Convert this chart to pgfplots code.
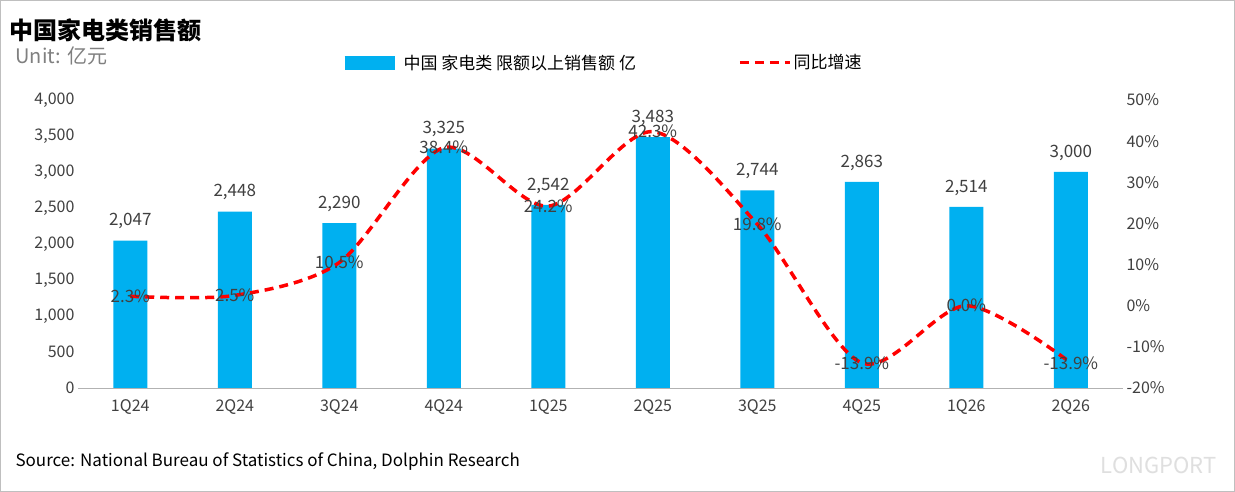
\documentclass[border=0pt]{standalone}
\usepackage{pgfplots}
\pgfplotsset{compat=1.18}
\usepackage{fontspec}
\setmainfont{Noto Sans CJK SC}
\definecolor{barblue}{HTML}{00B0F0}
\definecolor{txt}{HTML}{404040}
\begin{document}
\begin{tikzpicture}[x=1pt,y=1pt]
\fill[white] (0,0) rectangle (1235,492);
\draw[gray!50] (0.5,0.5) rectangle (1234.5,491.5);
\node[anchor=west,font=\fontsize{24}{26}\selectfont\bfseries] at (6,462) {中国家电类销售额};
\node[anchor=west,font=\fontsize{20}{22}\selectfont,text=gray] at (12,436) {Unit: 亿元};
\node[anchor=west,font=\fontsize{17}{20}\selectfont,text=black] at (12,30) {Source: National Bureau of Statistics of China, Dolphin Research};
\node[anchor=east,font=\fontsize{22}{24}\selectfont,text=gray!25] at (1220,27) {LONGPORT};
\pgfplotsset{every axis/.style={scale only axis,width=1045pt,height=288pt,at={(78pt,104pt)},anchor=south west,xmin=-0.5,xmax=9.5,
 tick label style={font=\fontsize{16}{18}\selectfont,text=txt},/pgf/number format/assume math mode=true,tick style={draw=none}}}
\begin{axis}[ymin=0,ymax=4000,ytick={0,500,...,4000},
 axis y line*=left, axis x line*=bottom, x axis line style={gray!60}, y axis line style={draw=none},
 xtick=data,xticklabels={1Q24,2Q24,3Q24,4Q24,1Q25,2Q25,3Q25,4Q25,1Q26,2Q26},
 xticklabel style={yshift=-8pt},
 /pgf/number format/.cd,1000 sep={,},
 ]
\addplot[ybar,bar width=34pt,fill=barblue,draw=none,nodes near coords,
 every node near coord/.style={font=\fontsize{17}{19}\selectfont,text=txt,yshift=8pt}] coordinates
 {(0,2047)(1,2448)(2,2290)(3,3325)(4,2542)(5,3483)(6,2744)(7,2863)(8,2514)(9,3000)};
\end{axis}
\begin{axis}[ymin=-20,ymax=50,ytick={-20,-10,...,50},yticklabel={\pgfmathprintnumber{\tick}\%},
 axis y line*=right, axis x line=none, y axis line style={draw=none},
 legend style={at={(0.5,1.13)},anchor=center,draw=none,font=\fontsize{17}{19}\selectfont,legend columns=2,
  /tikz/every even column/.append style={column sep=100pt}},
 legend image code/.code={\draw[#1] (0pt,0pt) -- (50pt,0pt);}]
\addlegendimage{line width=14pt,barblue}
\addlegendentry{中国 家电类 限额以上销售额 亿}
\addplot[red,line width=3.5pt,dash pattern=on 9pt off 6pt,smooth,tension=0.5,
 nodes near coords,point meta=explicit symbolic,
 every node near coord/.style={anchor=center,font=\fontsize{17}{19}\selectfont,text=txt}] coordinates
 {(0,2.3)[2.3\%] (1,2.5)[2.5\%] (2,10.5)[10.5\%] (3,38.4)[38.4\%] (4,24.2)[24.2\%] (5,42.3)[42.3\%] (6,19.8)[19.8\%] (7,-13.9)[-13.9\%] (8,0.0)[0.0\%] (9,-13.9)[-13.9\%]};
\addlegendentry{同比增速}
\end{axis}
\end{tikzpicture}
\end{document}
